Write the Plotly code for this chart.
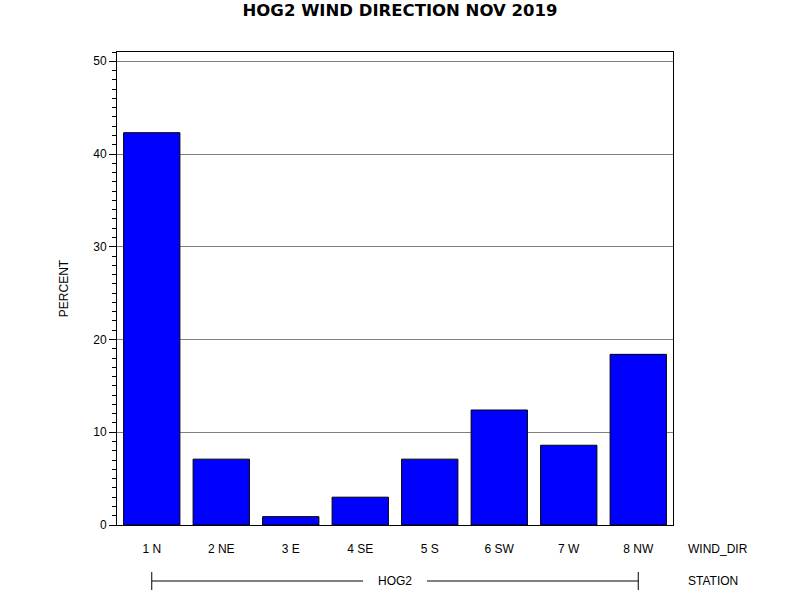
import plotly.graph_objects as go

wind_dir = ["1 N", "2 NE", "3 E", "4 SE", "5 S", "6 SW", "7 W", "8 NW"]
percent = [42.3, 7.1, 0.9, 3.0, 7.1, 12.4, 8.6, 18.4]
station = "HOG2"
title = "HOG2 WIND DIRECTION NOV 2019"
y_ticks = [0, 10, 20, 30, 40, 50]

W, H = 800, 600
L, R, T, B = 117, 673, 52, 525
PW, PH = R - L, B - T


def px_x(px):
    return (px - L) / PW


def px_y(py):
    return (B - py) / PH


fig = go.Figure()
fig.add_trace(go.Bar(
    x=wind_dir, y=percent,
    marker=dict(color="#0000FF", line=dict(color="black", width=1)),
))

fnt = "Liberation Sans, Arial, sans-serif"
fig.update_layout(
    width=W, height=H,
    paper_bgcolor="white", plot_bgcolor="white",
    margin=dict(l=L, r=W - R, t=T, b=H - B, pad=0, autoexpand=False),
    title=dict(text="<b>" + title + "</b>", x=0.5, xanchor="center",
               y=1 - 10 / H, yanchor="middle",
               font=dict(family="DejaVu Sans, Verdana, sans-serif", size=16.5, color="black")),
    font=dict(family=fnt, size=12, color="black"),
    showlegend=False,
    bargap=0.19,
    xaxis=dict(
        type="category", showline=True, linecolor="black", linewidth=1, mirror=True,
        ticks="", showgrid=False, ticklabelstandoff=13, automargin=False,
        tickfont=dict(family=fnt, size=12),
    ),
    yaxis=dict(
        range=[0, 51], showline=True, linecolor="black", linewidth=1, mirror=True,
        tickvals=y_ticks, ticks="outside", ticklen=7, tickcolor="black",
        showgrid=True, gridcolor="#808080", gridwidth=1, zeroline=False, automargin=False,
        minor=dict(dtick=1, tick0=0, ticks="outside", ticklen=4, tickcolor="black", showgrid=False),
        title=dict(text="PERCENT", font=dict(family=fnt, size=12), standoff=22),
        tickfont=dict(family=fnt, size=12),
    ),
)

fig.add_annotation(text="WIND_DIR", x=px_x(686), xref="paper", xanchor="left",
                   y=px_y(549), yref="paper", yanchor="middle", showarrow=False,
                   font=dict(family=fnt, size=12))
fig.add_annotation(text="STATION", x=px_x(686), xref="paper", xanchor="left",
                   y=px_y(581), yref="paper", yanchor="middle", showarrow=False,
                   font=dict(family=fnt, size=12))
ymid = px_y(581)
n = len(wind_dir)
fig.add_annotation(text=station, x=(n - 1) / 2, xref="x", xanchor="center",
                   y=ymid, yref="paper", yanchor="middle", showarrow=False,
                   font=dict(family=fnt, size=12))
gap = 0.46
line = dict(color="black", width=1)
fig.add_shape(type="line", xref="x", yref="paper", x0=0, x1=(n - 1) / 2 - gap, y0=ymid, y1=ymid, line=line)
fig.add_shape(type="line", xref="x", yref="paper", x0=(n - 1) / 2 + gap, x1=n - 1, y0=ymid, y1=ymid, line=line)
for xe in (0, n - 1):
    fig.add_shape(type="line", xref="x", yref="paper", x0=xe, x1=xe,
                  y0=px_y(590), y1=px_y(572), line=line)

fig.write_html("out.html", config={"displayModeBar": False},
               post_script="document.body.style.margin='0px';")
